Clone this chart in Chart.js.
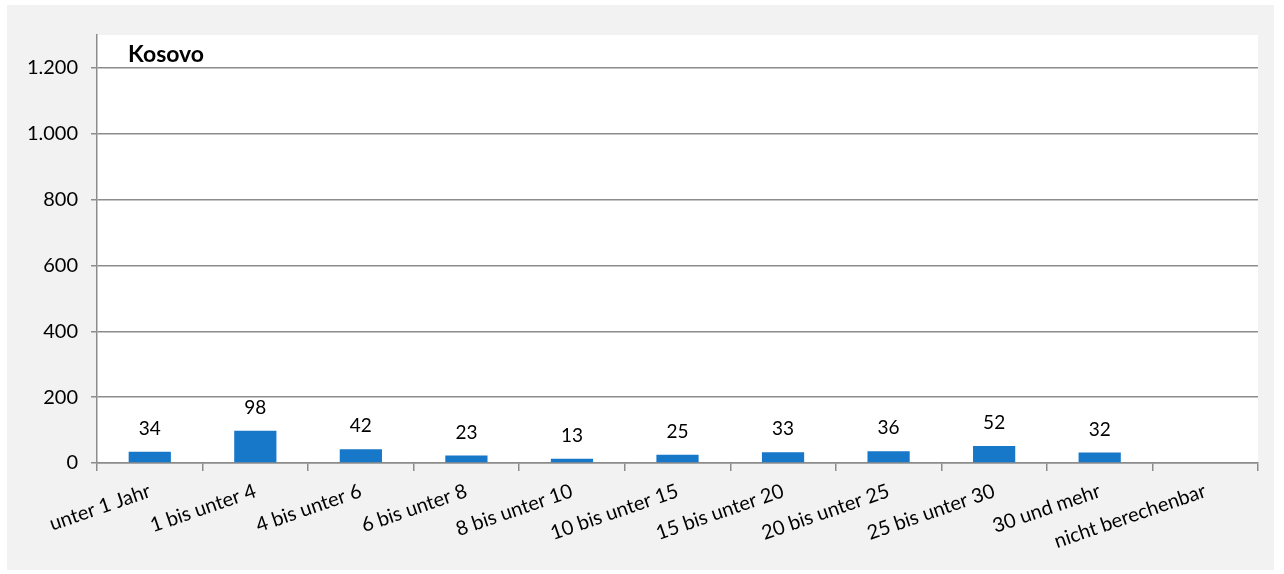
<!DOCTYPE html>
<html>
<head>
<meta charset="utf-8">
<script src="https://cdn.jsdelivr.net/npm/chart.js@4/dist/chart.umd.min.js"></script>
<style>
  body { margin: 0; background: #ffffff; }
  #box { position: absolute; left: 7px; top: 5px; width: 1267px; height: 565px; background: #f2f2f2; }
</style>
</head>
<body>
<div id="box"><canvas id="grafico" width="1267" height="565"></canvas></div>
<script>
// Datos del gráfico
const kategorien = ["unter 1 Jahr", "1 bis unter 4", "4 bis unter 6", "6 bis unter 8", "8 bis unter 10",
  "10 bis unter 15", "15 bis unter 20", "20 bis unter 25", "25 bis unter 30", "30 und mehr", "nicht berechenbar"];
const werte = [34, 98, 42, 23, 13, 25, 33, 36, 52, 32, null];
const yTicks = [0, 200, 400, 600, 800, 1000, 1200];
const titel = "Kosovo";

const schrift = "Lato, 'Open Sans', sans-serif";
const grau = "#8c8c8c";

function formatZahl(v) {
  return String(v).replace(/\B(?=(\d{3})+(?!\d))/g, ".");
}

// Fondo blanco del área del gráfico y texto encima de las barras
const extras = {
  id: "extras",
  beforeDraw(chart) {
    const a = chart.chartArea;
    const ctx = chart.ctx;
    ctx.save();
    ctx.fillStyle = "#ffffff";
    ctx.fillRect(a.left, a.top, a.right - a.left, a.bottom - a.top);
    ctx.restore();
  },
  afterDatasetsDraw(chart) {
    const ctx = chart.ctx;
    const meta = chart.getDatasetMeta(0);
    ctx.save();
    ctx.fillStyle = "#000";
    ctx.font = "19px " + schrift;
    ctx.textAlign = "center";
    ctx.textBaseline = "middle";
    meta.data.forEach((bar, i) => {
      if (werte[i] == null) return;
      ctx.fillText(formatZahl(werte[i]), bar.x, bar.y - 23);
    });
    ctx.font = "bold 23px " + schrift;
    ctx.textAlign = "left";
    ctx.fillText(titel, chart.chartArea.left + 31, chart.chartArea.top + 20);
    ctx.restore();
  }
};

new Chart(document.getElementById("grafico"), {
  type: "bar",
  data: {
    labels: kategorien,
    datasets: [{
      data: werte,
      backgroundColor: "#1777c9",
      barPercentage: 0.4,
      categoryPercentage: 1
    }]
  },
  options: {
    responsive: false,
    animation: false,
    layout: { padding: { top: 30, right: 16, left: 0, bottom: 0 } },
    plugins: { legend: { display: false }, tooltip: { enabled: false } },
    scales: {
      x: {
        afterFit(s) { s.height = 107; },
        grid: { drawOnChartArea: false, drawTicks: true, tickLength: 8, color: grau, lineWidth: 1.5, offset: true },
        border: { color: grau, width: 1.5 },
        ticks: { color: "#000", font: { family: schrift, size: 20 }, minRotation: 19, maxRotation: 19, autoSkip: false, padding: 8 }
      },
      y: {
        min: 0,
        max: 1300,
        afterFit(s) { s.width = 90; },
        afterBuildTicks(s) { s.ticks = yTicks.map(v => ({ value: v })); },
        grid: { color: grau, lineWidth: 1.5, tickLength: 6 },
        border: { color: grau, width: 1.5 },
        ticks: { color: "#000", font: { family: schrift, size: 20 }, padding: 13, callback: v => formatZahl(v) }
      }
    }
  },
  plugins: [extras]
});
</script>
</body>
</html>
